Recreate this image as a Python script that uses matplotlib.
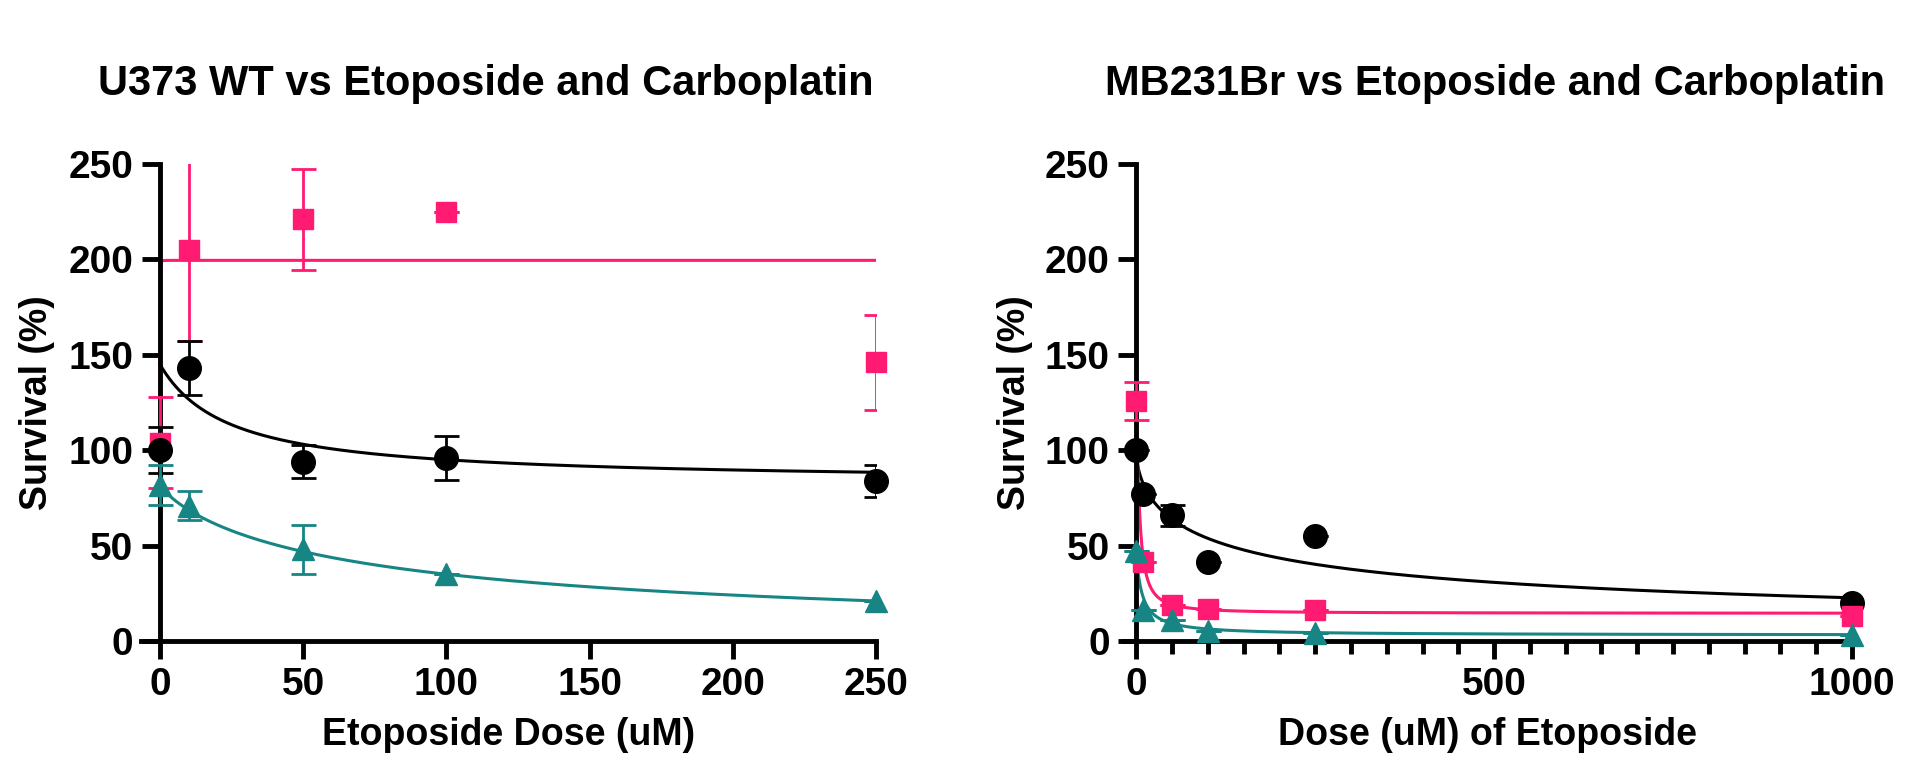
import numpy as np
import matplotlib
matplotlib.use("Agg")
import matplotlib.pyplot as plt
from matplotlib.ticker import MultipleLocator

plt.rcParams['font.family'] = ['Liberation Sans', 'DejaVu Sans']
plt.rcParams['font.weight'] = 'bold'

# --- data ---
dose_u373 = [0, 10, 50, 100, 250]
u373_eto = [100, 143, 94, 96, 84]
u373_eto_err = [12, 14, 8.5, 11.5, 8.5]
u373_carbo = [104, 205, 221, 225, 146]
u373_carbo_err = [24, 48, 26.5, 0, 25]
u373_combo = [82, 71, 48, 35, 21]
u373_combo_err = [10.5, 7.5, 13, 0, 0]

dose_mb = [0, 10, 50, 100, 250, 1000]
mb_eto = [100, 77, 66, 41.5, 55, 20]
mb_eto_err = [0, 0, 5.5, 0, 0, 0]
mb_carbo = [126, 41.5, 18.7, 17, 16, 13]
mb_carbo_err = [10, 0, 0, 0, 0, 0]
mb_combo = [47, 16, 11, 5, 4, 3]
mb_combo_err = [0, 0, 0, 0, 0, 0]

# fitted curve parameters (top, bottom, ec50, hill) as drawn in the source
fit_u373 = {'eto': (145, 83, 24, 1.0), 'carbo': (82, 199.5, 0.04, 2.0), 'combo': (82, 0, 70.4, 0.842)}
fit_mb = {'eto': (100, 0, 129, 0.6), 'carbo': (126, 14.5, 4.44, 1.3), 'combo': (47, 3, 8.1, 1.0)}

colors = {'eto': 'black', 'carbo': '#FF1A72', 'combo': '#168584'}
markers = {'eto': 'o', 'carbo': 's', 'combo': '^'}
msize = {'eto': 17, 'carbo': 15, 'combo': 16}


def hill(x, top, bottom, ec50, h):
    return bottom + (top - bottom) / (1 + (x / ec50) ** h)


fig = plt.figure(figsize=(19.2, 7.74), dpi=100)
# data x=0 sits at 160 px (left) and 1136 px (right)
ax1 = fig.add_axes([141 / 1920, 1 - 641 / 774, 735 / 1920, 477 / 774])
ax2 = fig.add_axes([1124 / 1920, 1 - 641 / 774, 728 / 1920, 477 / 774])


def draw(ax, dose, series, fits, xmax):
    xs = np.linspace(0, xmax, 4000)
    for key, (vals, errs) in series.items():
        c = colors[key]
        ax.plot(xs, hill(xs, *fits[key]), color=c, lw=2.2, zorder=2)
        ax.errorbar(dose, vals, yerr=errs, fmt='none', ecolor=c, elinewidth=2,
                    capsize=9, capthick=2, zorder=3)
        ax.plot(dose, vals, ls='none', marker=markers[key], color=c,
                markersize=msize[key], zorder=4, clip_on=False)


draw(ax1, dose_u373,
     {'carbo': (u373_carbo, u373_carbo_err), 'eto': (u373_eto, u373_eto_err),
      'combo': (u373_combo, u373_combo_err)}, fit_u373, 250)
draw(ax2, dose_mb,
     {'eto': (mb_eto, mb_eto_err), 'carbo': (mb_carbo, mb_carbo_err),
      'combo': (mb_combo, mb_combo_err)}, fit_mb, 1000)

for ax in (ax1, ax2):
    ax.set_ylim(0, 250)
    ax.spines['top'].set_visible(False)
    ax.spines['right'].set_visible(False)
    ax.spines['left'].set_position(('data', 0))
    ax.spines['left'].set_linewidth(3.5)
    ax.spines['bottom'].set_linewidth(3.5)
    ax.spines['left'].set_bounds(0, 250)
    ax.yaxis.set_major_locator(MultipleLocator(50))
    ax.tick_params(axis='both', which='major', width=3.5, length=13, labelsize=28, pad=6)
    ax.tick_params(axis='x', which='minor', width=3.5, length=9)
    ax.set_ylabel('Survival (%)', fontsize=27, fontweight='bold')

ax1.yaxis.set_label_coords(-0.117, 0.5)
ax2.yaxis.set_label_coords(-0.125, 0.5)

ax1.set_xlim(-6.6, 250)
ax1.xaxis.set_major_locator(MultipleLocator(50))
ax1.set_xlabel('Etoposide Dose (uM)', fontsize=27, fontweight='bold', labelpad=10)
ax1.set_title('U373 WT vs Etoposide and Carboplatin', fontsize=30, fontweight='bold',
              pad=50, x=0.469)

ax2.set_xlim(-17, 1000)
ax2.xaxis.set_major_locator(MultipleLocator(500))
ax2.xaxis.set_minor_locator(MultipleLocator(50))
ax2.set_xlabel('Dose (uM) of Etoposide', fontsize=27, fontweight='bold', labelpad=10)
ax2.set_title('MB231Br vs Etoposide and Carboplatin', fontsize=30, fontweight='bold',
              pad=50, x=0.51)

for ax in (ax1, ax2):
    for lab in ax.get_xticklabels() + ax.get_yticklabels():
        lab.set_fontweight('bold')

fig.savefig('out.png', dpi=100, facecolor='white')
